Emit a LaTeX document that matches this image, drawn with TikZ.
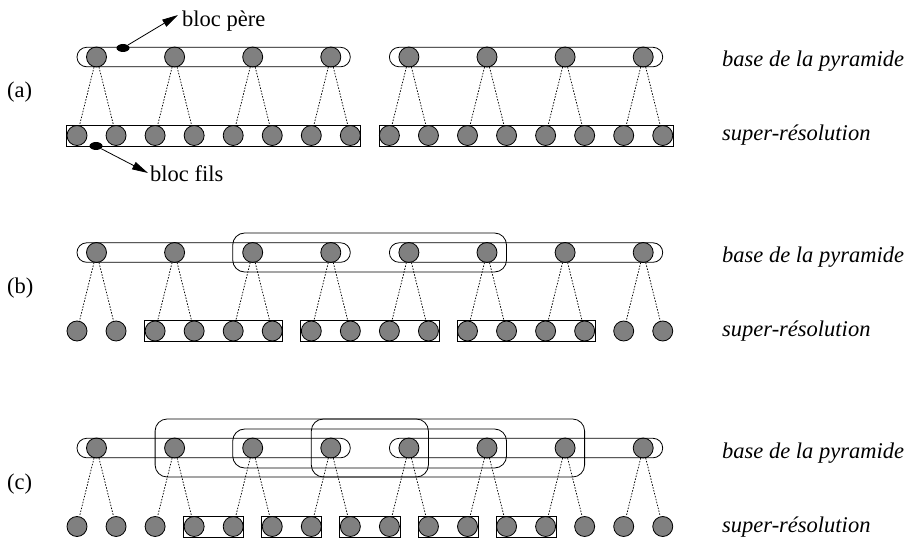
\documentclass[tikz,border=0pt]{standalone}
\usepackage{fontspec}
\setmainfont{Liberation Serif}
\usetikzlibrary{arrows.meta,shapes.geometric}
\begin{document}
\begin{tikzpicture}[x=1pt,y=-1pt,
  pix/.style={circle,draw=black,fill=gray,minimum size=20pt,inner sep=0pt,line width=0.8pt},
  link/.style={line width=0.75pt,dash pattern=on 1.5pt off 1.5pt},
  box/.style={line width=0.8pt},
  stad/.style={box,rounded corners=9.7pt},
  grp/.style={box,rounded corners=12pt},
  lbl/.style={font=\fontsize{22.5}{27}\selectfont,inner sep=0pt,anchor=base west},
  ilbl/.style={lbl,font=\fontsize{22.5}{27}\selectfont\itshape},
  blob/.style={ellipse,fill=black,minimum width=13pt,minimum height=8pt,inner sep=0pt},
  arr/.style={line width=0.8pt,-{Triangle[length=16pt,width=8pt]}}
]
\useasboundingbox (0,0) rectangle (911,540);

% rows of pixels and links
\foreach \s/\o in {a/0,b/195.5,c/391}{
  \foreach \k in {0,...,15}
    \node[pix] (c\s\k) at ({77+39.05*\k},{135.5+\o}) {};
  \foreach \i in {0,...,7}{
    \node[pix] (p\s\i) at ({96.5+78.1*\i},{57+\o}) {};
    \pgfmathtruncatemacro\ka{2*\i}
    \pgfmathtruncatemacro\kb{2*\i+1}
    \draw[link] (p\s\i) -- (c\s\ka);
    \draw[link] (p\s\i) -- (c\s\kb);
  }
  % parent blocks (stadiums)
  \draw[stad] (77,{47.3+\o}) rectangle (350.3,{66.8+\o});
  \draw[stad] (389.4,{47.3+\o}) rectangle (662.7,{66.8+\o});
  % labels on the right
  \node[ilbl] (base\s) at (722,{67+\o}) {base de la pyramide};
  \node[ilbl] (sr\s) at (722,{141+\o}) {super-résolution};
}

% child blocks
\foreach \a/\b/\o in {0/7/0,8/15/0,
                      2/5/195.5,6/9/195.5,10/13/195.5,
                      3/4/391,5/6/391,7/8/391,9/10/391,11/12/391}
  \draw[box] ({77+39.05*\a-10.5},{125+\o}) rectangle ({77+39.05*\b+10.5},{146+\o});

% grouping boxes
\draw[grp] (232.7,233) rectangle (506.5,272);
\draw[grp] (155.1,419) rectangle (584.6,477);
\draw[grp] (232.7,429) rectangle (506.5,468);
\draw[grp] (311.3,419) rectangle (428.4,477);

% row labels
\node[lbl] (la) at (7,98) {(a)};
\node[lbl] (lb) at (7,293.5) {(b)};
\node[lbl] (lc) at (7,489) {(c)};

% annotations
\node[blob] (ep) at (123,48) {};
\coordinate (tp) at (178,15);
\draw[arr] (ep) -- (tp);
\node[lbl] (pere) at (182,27) {bloc père};

\node[blob] (ef) at (96,146) {};
\coordinate (tf) at (148,173);
\draw[arr] (ef) -- (tf);
\node[lbl] (fils) at (150,182) {bloc fils};
\end{tikzpicture}
\end{document}
